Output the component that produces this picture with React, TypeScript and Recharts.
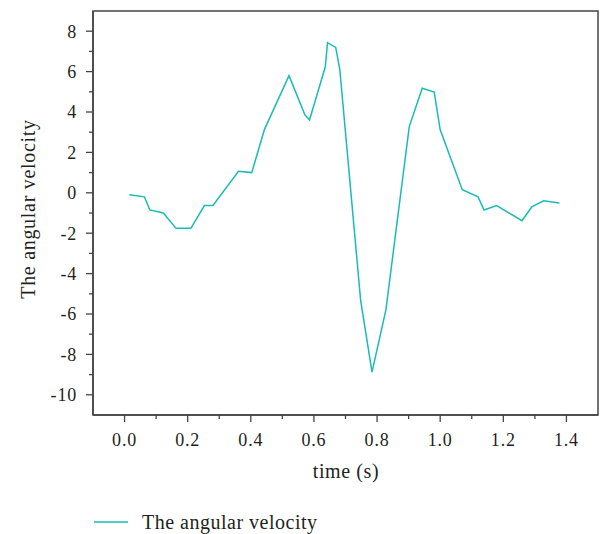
import React from "react";
import {
  LineChart,
  Line,
  XAxis,
  YAxis,
  ReferenceArea,
  Legend,
  Label,
} from "recharts";

// time (s) and angular velocity
const timeS = [
  0.015, 0.063, 0.08, 0.123, 0.163, 0.21, 0.253, 0.28, 0.361, 0.403, 0.443,
  0.521, 0.571, 0.586, 0.636, 0.643, 0.669, 0.682, 0.748, 0.784, 0.828, 0.902,
  0.943, 0.981, 1.0, 1.07, 1.12, 1.139, 1.179, 1.259, 1.29, 1.328, 1.378,
];
const angularVelocity = [
  -0.1, -0.2, -0.85, -1.0, -1.76, -1.76, -0.63, -0.63, 1.07, 1.0, 3.13, 5.8,
  3.87, 3.6, 6.24, 7.43, 7.2, 6.1, -5.33, -8.88, -5.8, 3.28, 5.18, 4.99, 3.12,
  0.15, -0.2, -0.85, -0.63, -1.38, -0.7, -0.4, -0.5,
];
const xTicks = [
  -0.1, 0, 0.1, 0.2, 0.3, 0.4, 0.5, 0.6, 0.7, 0.8, 0.9, 1.0, 1.1, 1.2, 1.3,
  1.4, 1.5,
];
const yTicks = [-11, -10, -9, -8, -7, -6, -5, -4, -3, -2, -1, 0, 1, 2, 3, 4, 5, 6, 7, 8, 9];

const data = timeS.map((t, i) => ({ t, v: angularVelocity[i] }));

const LINE = "#19bcb4";
const AXIS = "#444444";
const INK = "#231f20";
const FONT = "'Liberation Serif', serif";

function XTick({ x, y, payload }: any) {
  const v = payload.value as number;
  const major = Math.round(v * 10) % 2 === 0;
  const edge = v < -0.05 || v > 1.45;
  return (
    <g>
      {!edge && (
        <line x1={x} x2={x} y1={y} y2={y + (major ? 7 : 4)} stroke={AXIS} strokeWidth={1.3} />
      )}
      {major && !edge && (
        <text x={x} y={y + 25} dy="0.35em" textAnchor="middle" fontSize={18} letterSpacing={0.8} fontFamily={FONT} fill={INK}>
          {v.toFixed(1)}
        </text>
      )}
    </g>
  );
}

function YTick({ x, y, payload }: any) {
  const v = payload.value as number;
  const major = v % 2 === 0;
  const edge = v === -11 || v === 9;
  return (
    <g>
      {!edge && (
        <line x1={x - (major ? 7 : 4)} x2={x} y1={y} y2={y} stroke={AXIS} strokeWidth={1.3} />
      )}
      {major && (
        <text x={x - 16} y={y} dy="0.35em" textAnchor="end" fontSize={18} letterSpacing={0.8} fontFamily={FONT} fill={INK}>
          {v}
        </text>
      )}
    </g>
  );
}

function LegendContent() {
  return (
    <svg width={260} height={24}>
      <line x1={4} x2={38} y1={12} y2={12} stroke={LINE} strokeWidth={1.5} />
      <text x={52} y={12} dy="0.35em" fontSize={20} letterSpacing={0.5} fontFamily={FONT} fill={INK}>
        The angular velocity
      </text>
    </svg>
  );
}

export default function App() {
  return (
    <div style={{ position: "absolute", left: 0, top: 0, background: "#fff" }}>
      <LineChart
        width={600}
        height={534}
        data={data}
        margin={{ top: 11, right: 2, left: 0, bottom: 0 }}
      >
        <XAxis
          dataKey="t"
          type="number"
          domain={[-0.1, 1.5]}
          ticks={xTicks}
          interval={0}
          allowDataOverflow
          height={119}
          tickSize={0}
          tickMargin={0}
          tick={<XTick />}
          axisLine={{ stroke: AXIS, strokeWidth: 1.5 }}
        >
          <Label
            content={() => (
              <text x={346} y={471} dy="0.35em" textAnchor="middle" fontSize={20} letterSpacing={0.6} fontFamily={FONT} fill={INK}>
                time (s)
              </text>
            )}
          />
        </XAxis>
        <YAxis
          type="number"
          domain={[-11, 9]}
          ticks={yTicks}
          interval={0}
          allowDataOverflow
          width={93}
          tickSize={0}
          tickMargin={0}
          tick={<YTick />}
          axisLine={{ stroke: AXIS, strokeWidth: 1.5 }}
        >
          <Label
            content={() => (
              <text
                x={28}
                y={209}
                dy="0.35em"
                textAnchor="middle"
                transform="rotate(-90 28 209)"
                fontSize={20}
                letterSpacing={0.7}
                fontFamily={FONT}
                fill={INK}
              >
                The angular velocity
              </text>
            )}
          />
        </YAxis>
        <ReferenceArea
          x1={-0.1}
          x2={1.5}
          y1={-11}
          y2={9}
          fill="none"
          stroke={AXIS}
          strokeWidth={1.5}
          ifOverflow="visible"
        />
        <Line
          type="linear"
          dataKey="v"
          name="The angular velocity"
          stroke={LINE}
          strokeWidth={1.5}
          dot={false}
          isAnimationActive={false}
        />
        <Legend
          layout="horizontal"
          verticalAlign="middle"
          align="center"
          content={<LegendContent />}
          wrapperStyle={{ top: 510, left: 90, width: 260, height: 24 }}
        />
      </LineChart>
    </div>
  );
}
